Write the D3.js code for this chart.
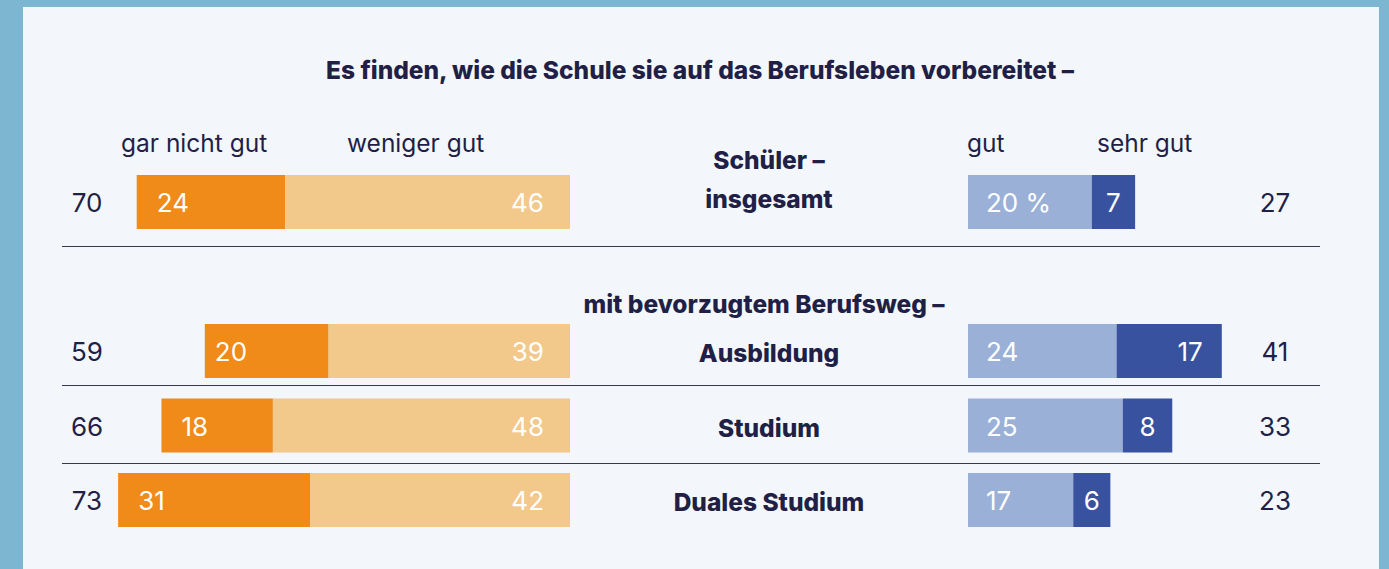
<!DOCTYPE html>
<html lang="de">
<head>
<meta charset="utf-8">
<script src="https://cdn.jsdelivr.net/npm/d3@7/dist/d3.min.js"></script>
<style>
  html, body { margin: 0; padding: 0; background: #7db6d0; }
  svg { display: block; font-family: Inter, "Noto Sans", sans-serif; }
</style>
</head>
<body>
<svg id="chart" width="1389" height="569"></svg>
<script>
// Survey: how pupils rate their school's preparation for working life (percent)
const categories = [["Schüler –", "insgesamt"], ["Ausbildung"], ["Studium"], ["Duales Studium"]];
const garNichtGut = [24, 20, 18, 31];
const wenigerGut  = [46, 39, 48, 42];
const gut         = [20, 24, 25, 17];
const sehrGut     = [7, 17, 8, 6];
const legendLabels = ["gar nicht gut", "weniger gut", "gut", "sehr gut"];
const title = "Es finden, wie die Schule sie auf das Berufsleben vorbereitet –";
const groupHeading = "mit bevorzugtem Berufsweg –";

const W = 1389, H = 569;
const ink = "#221f47";
const colors = { garNicht: "#f08a18", weniger: "#f2c88b", gut: "#9bb0d6", sehr: "#38529f" };

const svg = d3.select("#chart");

// panel
svg.append("rect").attr("x", 23).attr("y", 7).attr("width", 1356).attr("height", H - 7).attr("fill", "#f3f7fb");

// scales: negative ratings grow leftwards from 570, positive ones rightwards from 968
const xL = d3.scaleLinear().domain([0, 100]).range([570, 570 - 619]);
const xR = d3.scaleLinear().domain([0, 100]).range([968, 968 + 619]);

// vertical layout: overall row on its own, then the three career-path rows
const groupY = d3.scalePoint().domain([1, 2, 3]).range([324, 473]);
const barH = 54;
const rowTop = i => i === 0 ? 175 : groupY(i);

const rows = categories.map((c, i) => ({
  label: c,
  a: garNichtGut[i], b: wenigerGut[i], c: gut[i], d: sehrGut[i],
  neg: garNichtGut[i] + wenigerGut[i],
  pos: gut[i] + sehrGut[i],
  y: rowTop(i), i
}));

const headSize = 24.5;

// title
svg.append("text").attr("x", 700).attr("y", 79).attr("text-anchor", "middle")
  .attr("font-size", headSize).attr("font-weight", 800).attr("fill", ink).text(title);

// legend
const legendX = [121, 347, 967, 1097];
svg.selectAll("text.legend").data(legendLabels).join("text").attr("class", "legend")
  .attr("x", (d, i) => legendX[i]).attr("y", 152)
  .attr("font-size", 24.5).attr("fill", ink).text(d => d);

// separators
[246, 385, 463].forEach(y => {
  svg.append("line").attr("x1", 62).attr("x2", 1320).attr("y1", y + 0.5).attr("y2", y + 0.5)
    .attr("stroke", "#3a3858").attr("stroke-width", 1);
});

// group heading
svg.append("text").attr("x", 764).attr("y", 313).attr("text-anchor", "middle")
  .attr("font-size", headSize).attr("font-weight", 800).attr("fill", ink).text(groupHeading);

const g = svg.selectAll("g.row").data(rows).join("g").attr("class", "row");

// bars
g.append("rect").attr("x", d => xL(d.neg)).attr("y", d => d.y).attr("height", barH)
  .attr("width", d => xL(d.b) - xL(d.neg)).attr("fill", colors.garNicht);
g.append("rect").attr("x", d => xL(d.b)).attr("y", d => d.y).attr("height", barH)
  .attr("width", d => xL(0) - xL(d.b)).attr("fill", colors.weniger);
g.append("rect").attr("x", xR(0)).attr("y", d => d.y).attr("height", barH)
  .attr("width", d => xR(d.c) - xR(0)).attr("fill", colors.gut);
g.append("rect").attr("x", d => xR(d.c)).attr("y", d => d.y).attr("height", barH)
  .attr("width", d => xR(d.pos) - xR(d.c)).attr("fill", colors.sehr);

// value labels
const valueText = (sel) => sel.attr("font-size", 26).attr("fill", "#fff");
const base = d => d.y + barH / 2 + 10;

g.append("text").call(valueText).attr("x", d => xL(d.neg) + (d.i === 1 ? 10 : 20)).attr("y", base).text(d => d.a);
g.append("text").call(valueText).attr("text-anchor", "end").attr("x", xL(0) - 26).attr("y", base).text(d => d.b);
g.append("text").call(valueText).attr("x", xR(0) + 18).attr("y", base).text(d => d.i === 0 ? d.c + " %" : d.c);
g.append("text").call(valueText)
  .attr("text-anchor", d => (xR(d.pos) - xR(d.c)) > 70 ? "end" : "middle")
  .attr("x", d => (xR(d.pos) - xR(d.c)) > 70 ? xR(d.pos) - 19 : (xR(d.c) + xR(d.pos)) / 2)
  .attr("y", base).text(d => d.d);

// totals
g.append("text").attr("x", 87).attr("y", base).attr("text-anchor", "middle")
  .attr("font-size", 26).attr("fill", ink).text(d => d.neg);
g.append("text").attr("x", 1275).attr("y", base).attr("text-anchor", "middle")
  .attr("font-size", 26).attr("fill", ink).text(d => d.pos);

// category labels
g.each(function (d) {
  const lines = d.label;
  const t = d3.select(this).append("text").attr("text-anchor", "middle")
    .attr("font-size", headSize).attr("font-weight", 800).attr("fill", ink);
  const first = lines.length === 1 ? d.y + barH / 2 + 11 : 169;
  lines.forEach((s, k) => t.append("tspan").attr("x", 769).attr("y", first + k * 39).text(s));
});
</script>
</body>
</html>
